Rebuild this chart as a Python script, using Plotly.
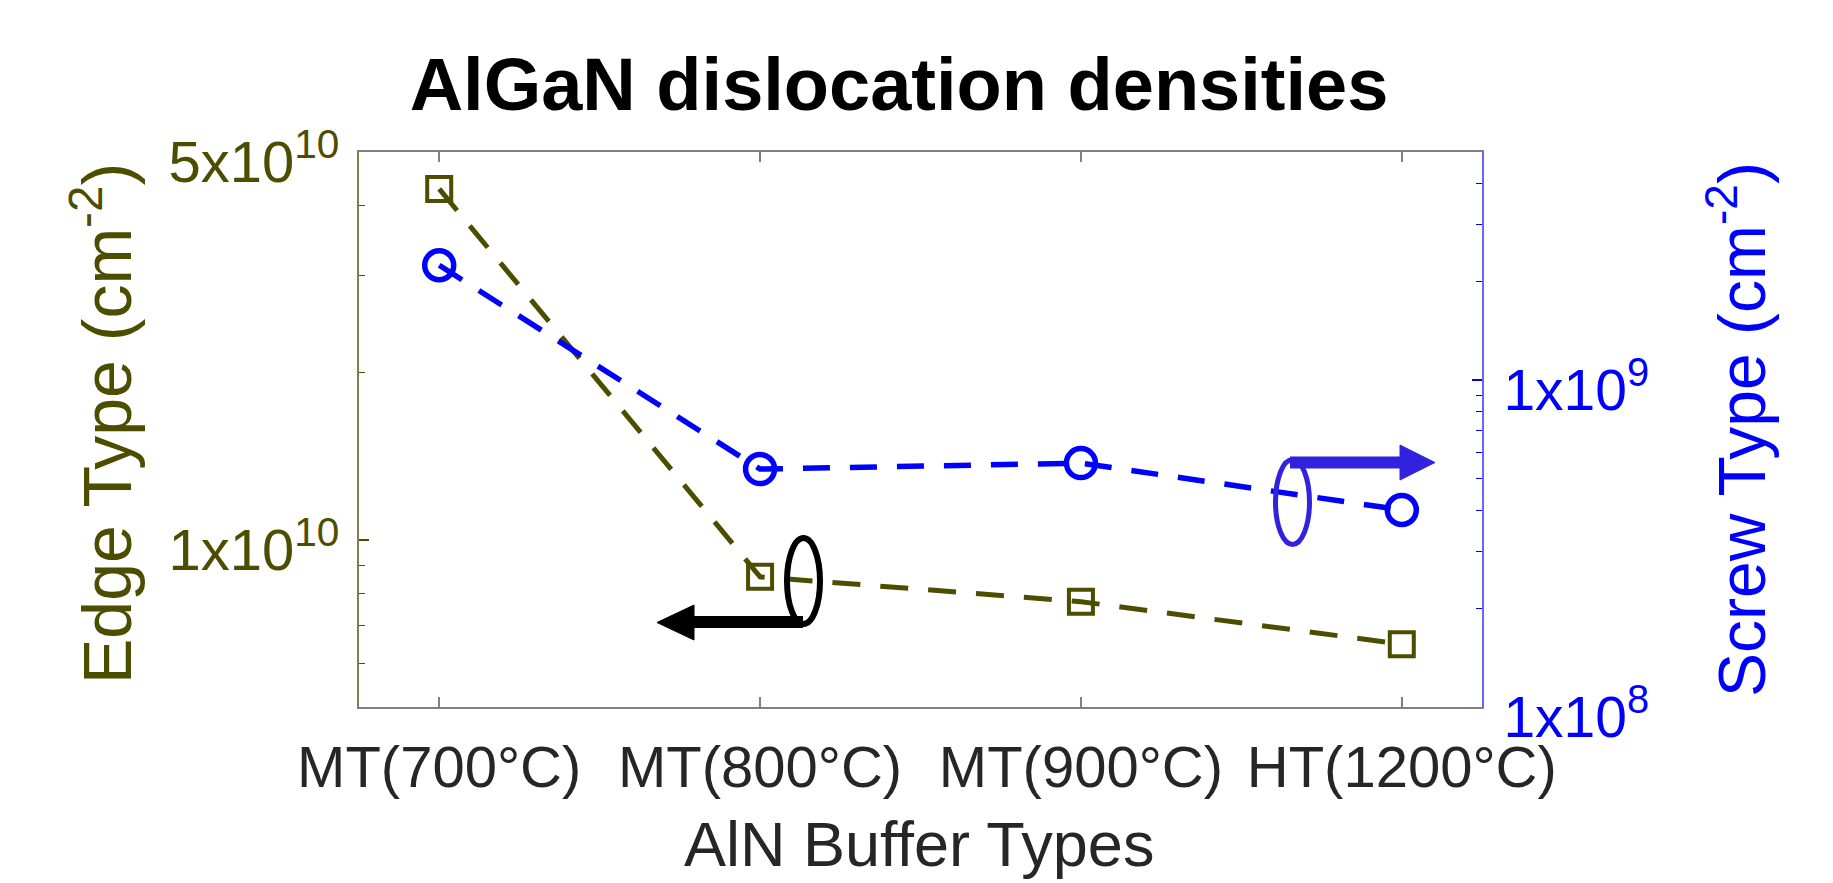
import plotly.graph_objects as go
import math

# ---- data ----
buffer_types = ["MT(700°C)", "MT(800°C)", "MT(900°C)", "HT(1200°C)"]
edge_density = [4.29e10, 8.58e9, 7.74e9, 6.49e9]      # cm^-2, left axis
screw_density = [2.25e9, 5.35e8, 5.58e8, 4.01e8]      # cm^-2, right axis

left_tickvals = [1e10, 5e10]
left_ticktext = ["1x10<sup>10</sup>", "5x10<sup>10</sup>"]
left_minor = [6e9, 7e9, 8e9, 9e9, 2e10, 3e10, 4e10]
right_tickvals = [1e8, 1e9]
right_ticktext = ["1x10<sup>8</sup>", "1x10<sup>9</sup>"]
right_minor = [2e8, 3e8, 4e8, 5e8, 6e8, 7e8, 8e8, 9e8, 2e9, 3e9, 4e9]

OLIVE = "#4d4d00"
BLUE = "#0000ff"
ANNO_BLUE = "#3322dd"
GRAY = "#808080"
TXT = "#262626"
FONT = "Liberation Sans, Arial, sans-serif"

W, H = 1833, 883
L, R, T, B = 359, 1482, 152, 707   # plot area in pixels


def fx(px):
    return (px - L) / (R - L)


def fy(py):
    return (B - py) / (B - T)


fig = go.Figure()
fig.add_trace(go.Scatter(
    x=buffer_types, y=screw_density, yaxis="y2", mode="lines+markers",
    line=dict(color=BLUE, width=5.5, dash="27px,20px"),
    marker=dict(symbol="circle-open", size=29, line=dict(color=BLUE, width=5.5)),
    showlegend=False))
fig.add_trace(go.Scatter(
    x=buffer_types, y=edge_density, yaxis="y", mode="lines+markers",
    line=dict(color=OLIVE, width=5, dash="28px,20px"),
    marker=dict(symbol="square-open", size=24, line=dict(color=OLIVE, width=4)),
    showlegend=False))

shapes = []
# black ellipse + left arrow
shapes.append(dict(type="circle", xref="paper", yref="paper",
                   x0=fx(787), x1=fx(820), y0=fy(624), y1=fy(538),
                   line=dict(color="black", width=6)))
shapes.append(dict(type="line", xref="paper", yref="paper",
                   x0=fx(803), x1=fx(685), y0=fy(622), y1=fy(622),
                   line=dict(color="black", width=12)))
shapes.append(dict(type="path", xref="paper", yref="paper",
                   path=f"M{fx(657)},{fy(622.5)} L{fx(694)},{fy(605)} L{fx(694)},{fy(640)} Z",
                   fillcolor="black", line=dict(color="black", width=1)))
# blue ellipse + right arrow
shapes.append(dict(type="circle", xref="paper", yref="paper",
                   x0=fx(1275.5), x1=fx(1309.5), y0=fy(544.5), y1=fy(459.5),
                   line=dict(color=ANNO_BLUE, width=5)))
shapes.append(dict(type="line", xref="paper", yref="paper",
                   x0=fx(1290), x1=fx(1405), y0=fy(462.5), y1=fy(462.5),
                   line=dict(color=ANNO_BLUE, width=12)))
shapes.append(dict(type="path", xref="paper", yref="paper",
                   path=f"M{fx(1435)},{fy(462.5)} L{fx(1400)},{fy(445)} L{fx(1400)},{fy(480)} Z",
                   fillcolor=ANNO_BLUE, line=dict(color=ANNO_BLUE, width=1)))

annotations = [
    dict(text="Edge Type (cm<sup>-2</sup>)", xref="paper", yref="paper",
         x=fx(102), y=fy(424), xanchor="center", yanchor="middle", textangle=-90,
         showarrow=False, font=dict(family=FONT, size=68, color=OLIVE)),
    dict(text="Screw Type (cm<sup>-2</sup>)", xref="paper", yref="paper",
         x=fx(1737), y=fy(430), xanchor="center", yanchor="middle", textangle=-90,
         showarrow=False, font=dict(family=FONT, size=66, color=BLUE)),
    dict(text="AlN Buffer Types", xref="paper", yref="paper",
         x=fx(919), y=fy(807), xanchor="center", yanchor="top",
         showarrow=False, font=dict(family=FONT, size=63, color=TXT)),
]

fig.update_layout(
    width=W, height=H,
    margin=dict(l=L, r=W - R, t=T, b=H - B, pad=0),
    paper_bgcolor="white", plot_bgcolor="white",
    font=dict(family=FONT),
    title=dict(text="<b>AlGaN dislocation densities</b>", x=899 / W, xanchor="center",
               y=1 - 84 / H, yanchor="middle", yref="container",
               font=dict(family=FONT, size=74, color="black")),
    xaxis=dict(type="category", range=[-0.25, 3.25], showgrid=False, zeroline=False,
               showline=True, linecolor=GRAY, linewidth=2, mirror="ticks",
               ticks="inside", ticklen=10, tickcolor=GRAY, tickwidth=1.5,
               tickfont=dict(family=FONT, size=58, color=TXT), ticklabelstandoff=8,
               automargin=False),
    yaxis=dict(type="log", range=[math.log10(5e9), math.log10(5e10)], showgrid=False,
               zeroline=False, showline=True, linecolor="#80804d", linewidth=2,
               ticks="inside", ticklen=10, tickcolor=OLIVE, tickwidth=1.5,
               tickvals=left_tickvals, ticktext=left_ticktext,
               minor=dict(tickvals=left_minor, ticks="inside", ticklen=6,
                          tickcolor=OLIVE, tickwidth=1.2, showgrid=False),
               tickfont=dict(family=FONT, size=58, color=OLIVE),
               ticklabelstandoff=6, ticklabelshift=10, automargin=False),
    yaxis2=dict(type="log", range=[8, math.log10(5e9)], overlaying="y", side="right",
                showgrid=False, zeroline=False, showline=True, linecolor="#6666ff",
                linewidth=2, ticks="inside", ticklen=10, tickcolor=BLUE, tickwidth=1.5,
                tickvals=right_tickvals, ticktext=right_ticktext,
                minor=dict(tickvals=right_minor, ticks="inside", ticklen=6,
                           tickcolor=BLUE, tickwidth=1.2, showgrid=False),
                tickfont=dict(family=FONT, size=57, color=BLUE),
                ticklabelstandoff=8, ticklabelshift=10, automargin=False),
    shapes=shapes,
    annotations=annotations,
)

fig.write_html("out.html")
